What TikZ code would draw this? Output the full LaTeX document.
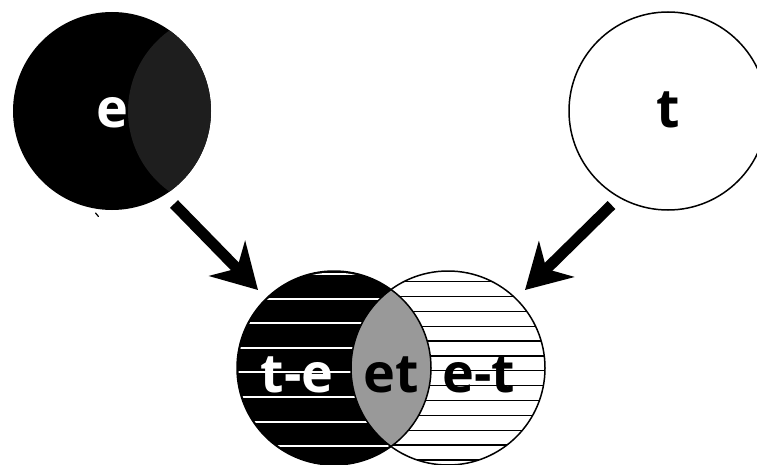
\documentclass[tikz,border=0pt]{standalone}
\usepackage{fontspec}
\setmainfont{Open Sans}
\usetikzlibrary{arrows.meta}
\definecolor{darklens}{HTML}{1E1E1E}
\definecolor{midgray}{HTML}{999999}
\tikzset{
  setcircle/.style={circle, inner sep=0pt, minimum size=#1},
  lbl/.style={font=\fontsize{54}{60}\selectfont\bfseries, inner sep=0pt, anchor=base},
  bigarrow/.style={line width=11pt, -{Stealth[length=44pt,width=50pt,inset=14pt]}},
  outline/.style={draw=black, line width=1.5pt}
}
\begin{document}
\begin{tikzpicture}[x=1pt,y=-1pt]
\useasboundingbox (0,0) rectangle (757,465);
\begin{scope}
\clip (0,0) rectangle (757,465);
% top-left set e
\node[setcircle=198pt, fill=black] (E) at (112,111) {};
\begin{scope}
  \clip (E.center) circle (99);
  \fill[darklens] (227,111) circle (99);
\end{scope}
\node[lbl, text=white] (Elab) at (112,128) {e};
\draw[line width=1.2pt, line cap=round] (95.5,213) -- (98.5,216.5);
% top-right set t
\node[setcircle=198pt, outline, fill=white] (T) at (668,111) {};
\node[lbl, text=black] (Tlab) at (668,128) {t};
% bottom venn
\node[setcircle=194pt, fill=black] (L) at (334,368) {};
\node[setcircle=194pt, fill=white] (R) at (448,368) {};
\begin{scope}
  \clip (L.center) circle (95.5);
  \foreach \k in {0,...,7} {
    \draw[white, line width=2pt] (230,{274+24.6*\k}) -- (440,{274+24.6*\k});
  }
\end{scope}
\begin{scope}
  \clip (R.center) circle (97);
  \foreach \k in {0,...,12} {
    \draw[black, line width=1.3pt] (340,{281.7+14.85*\k}) -- (560,{281.7+14.85*\k});
  }
\end{scope}
\begin{scope}
  \clip (L.center) circle (97);
  \fill[midgray] (R.center) circle (97);
\end{scope}
\draw[outline] (L.center) circle (97);
\draw[outline] (R.center) circle (97);
\node[lbl, text=white] (TE) at (297,392) {t-e};
\node[lbl, text=black] (ET) at (391,392) {et};
\node[lbl, text=black] (EmT) at (479,392) {e-t};
% arrows
\coordinate (a1s) at (174,204);
\coordinate (a1e) at (258,290);
\coordinate (a2s) at (611.5,205);
\coordinate (a2e) at (525,290);
\draw[bigarrow] (a1s) -- (a1e);
\draw[bigarrow] (a2s) -- (a2e);
\end{scope}
\end{tikzpicture}
\end{document}
